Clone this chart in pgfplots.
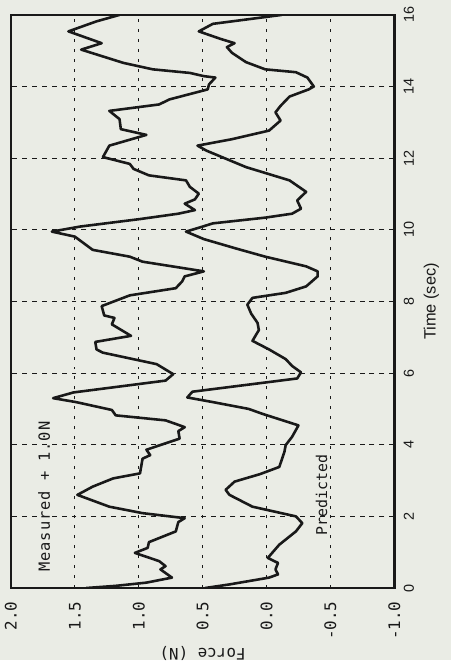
\documentclass[border=0pt]{standalone}
\usepackage{pgfplots}
\pgfplotsset{compat=1.18}
\usepackage{fontspec}
\setmainfont{Liberation Sans}
\newfontfamily\monofont{DejaVu Sans Mono}
\newfontfamily\measfont[LetterSpace=6]{DejaVu Sans Mono}
\definecolor{bg}{RGB}{234,236,229}
\definecolor{ink}{RGB}{25,25,25}
\begin{document}
\begin{tikzpicture}
\fill[bg] (0,0) rectangle (454pt,664pt);
\begin{axis}[
  at={(11pt,72pt)}, anchor=south west,
  scale only axis, width=386pt, height=577pt,
  x dir=reverse, xmin=-1, xmax=2, ymin=0, ymax=16,
  xtick={-1,-0.5,0,0.5,1,1.5,2},
  xticklabels={-1.0,-0.5,0.0,0.5,1.0,1.5,2.0},
  ytick={0,2,4,6,8,10,12,14,16},
  yticklabels={0,2,4,6,8,10,12,14,16},
  major tick length=0pt,
  grid=major,
  major x grid style={ink, line width=1pt, dash pattern=on 3pt off 7pt},
  major y grid style={ink, line width=1pt, dash pattern=on 5pt off 5pt},
  axis line style={ink, line width=2.4pt},
  xticklabel style={font=\monofont\fontsize{16}{19}\selectfont, rotate=90, anchor=east, text=ink},
  xticklabel shift=10pt,
  yticklabel pos=right,
  yticklabel style={font=\fontsize{14.5}{17}\selectfont, rotate=90, anchor=north, text=ink},
  yticklabel shift=6pt,
  xlabel={Force (N)},
  xlabel style={font=\monofont\fontsize{16}{19}\selectfont, rotate=180, anchor=south, text=ink},
  ylabel={Time (sec)},
  ylabel shift=3pt,
  ylabel style={font=\fontsize{16.5}{19}\selectfont, text=ink},
]
\addplot[ink, line width=2.6pt, line join=round] coordinates {
(1.41,0.0) (1.18,0.06) (0.94,0.15) (0.74,0.29) (0.83,0.52) (0.79,0.61) (0.84,0.75)
(1.03,0.98) (0.93,1.12) (0.92,1.28) (0.71,1.58) (0.69,1.84) (0.64,1.95) (0.97,2.09)
(1.23,2.27) (1.48,2.60) (1.36,2.83) (1.20,3.06) (0.99,3.20) (0.97,3.61) (0.91,3.71)
(0.94,3.86) (0.68,4.17) (0.69,4.38) (0.64,4.49) (0.71,4.58) (0.79,4.68) (1.18,4.82)
(1.21,4.97) (1.49,5.19) (1.67,5.30) (1.51,5.46) (0.79,5.79) (0.73,5.97) (0.86,6.25)
(1.28,6.57) (1.33,6.66) (1.34,6.87) (1.06,7.04) (1.21,7.36) (1.19,7.54) (1.27,7.61)
(1.29,7.87) (1.07,8.17) (0.71,8.37) (0.66,8.56) (0.64,8.70) (0.49,8.84) (0.97,9.11)
(1.07,9.25) (1.36,9.44) (1.50,9.81) (1.68,9.95) (1.46,10.09) (0.99,10.30) (0.69,10.45)
(0.56,10.55) (0.64,10.73) (0.56,10.85) (0.53,11.01) (0.60,11.20) (0.63,11.38) (0.92,11.52)
(1.04,11.70) (1.07,11.84) (1.28,12.03) (1.23,12.35) (0.94,12.65) (1.14,12.81) (1.15,13.09)
(1.23,13.32) (0.84,13.50) (0.76,13.64) (0.46,13.92) (0.45,14.06) (0.40,14.25) (0.49,14.29)
(0.60,14.38) (0.89,14.48) (1.12,14.66) (1.45,15.03) (1.29,15.21) (1.55,15.54) (1.33,15.82)
(1.15,16.0)
};
\addplot[ink, line width=2.6pt, line join=round] coordinates {
(0.48,0.0) (0.29,0.10) (-0.02,0.29) (-0.09,0.38) (-0.07,0.52) (-0.09,0.70) (-0.01,0.84)
(-0.10,1.21) (-0.23,1.58) (-0.28,1.81) (-0.23,2.00) (0.11,2.27) (0.29,2.60) (0.32,2.74)
(0.25,2.97) (0.05,3.18) (-0.10,3.38) (-0.14,3.80) (-0.15,3.99) (-0.20,4.22) (-0.25,4.54)
(0.03,4.86) (0.14,5.00) (0.42,5.19) (0.62,5.32) (0.58,5.48) (-0.24,5.85) (-0.27,6.02)
(-0.20,6.20) (-0.15,6.39) (-0.02,6.66) (0.11,6.90) (0.06,7.20) (0.07,7.40) (0.12,7.66)
(0.15,7.91) (0.11,8.10) (-0.15,8.24) (-0.31,8.42) (-0.40,8.70) (-0.40,8.84) (-0.31,8.98)
(0.01,9.25) (0.24,9.48) (0.49,9.74) (0.63,9.95) (0.50,10.09) (0.42,10.18) (0.01,10.34)
(-0.20,10.45) (-0.27,10.59) (-0.24,10.82) (-0.31,11.06) (-0.18,11.38) (0.16,11.75) (0.47,12.21)
(0.54,12.35) (0.27,12.53) (-0.02,12.77) (-0.11,13.05) (-0.07,13.28) (-0.11,13.46) (-0.18,13.72)
(-0.33,13.92) (-0.37,14.00) (-0.32,14.25) (-0.23,14.40) (0.01,14.48) (0.16,14.68) (0.27,14.94)
(0.31,15.10) (0.25,15.21) (0.36,15.33) (0.53,15.54) (0.42,15.75) (-0.12,16.0)
};
\node[rotate=90, font=\measfont\fontsize{15.5}{18}\selectfont, text=ink] at (axis cs:1.74,2.55) {Measured + 1.0N};
\node[rotate=90, font=\monofont\fontsize{15}{17}\selectfont, text=ink] at (axis cs:-0.43,2.6) {Predicted};
\end{axis}
\end{tikzpicture}
\end{document}
